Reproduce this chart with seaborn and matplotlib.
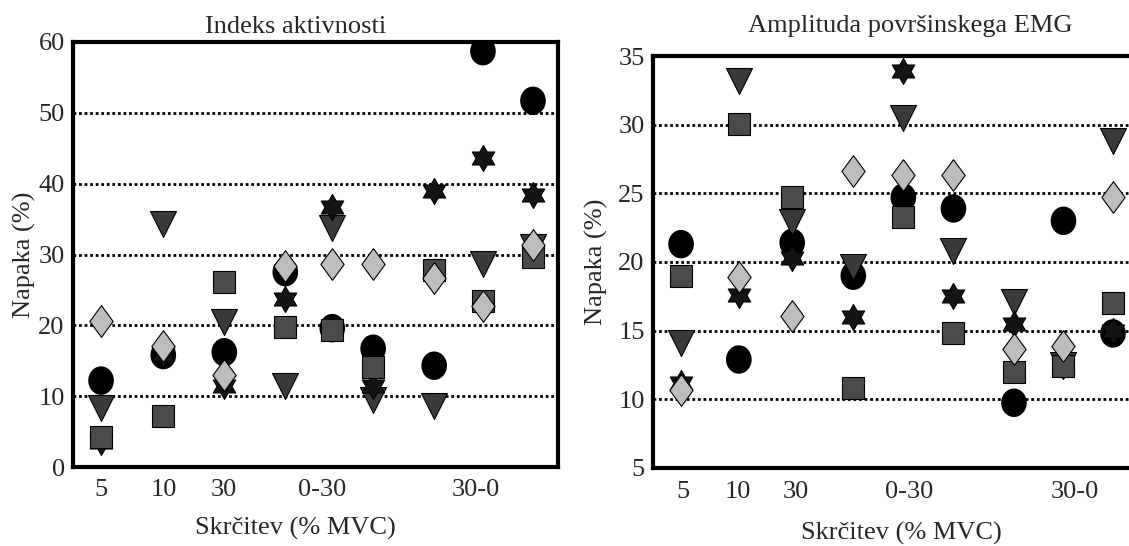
import numpy as np
import pandas as pd
import matplotlib
matplotlib.use('Agg')
import matplotlib.pyplot as plt
import seaborn as sns
from matplotlib.path import Path

# positions of the nine columns (uneven spacing as in the original figure)
left_pos = [1, 2.02, 3.02, 4.02, 4.79, 5.46, 6.46, 7.26, 8.08]
right_pos = [1, 2.05, 3.02, 4.13, 5.04, 5.95, 7.05, 7.95, 8.85]

tick_labels = ['5', '10', '30', '0-30', '30-0']
left_label_pos = [1, 2.03, 3.02, 4.62, 7.15]
right_label_pos = [1.04, 2.04, 3.09, 5.15, 8.15]

# Indeks aktivnosti (% napake)
ia_circle = [12.2, 15.8, 16.2, 27.5, 19.6, 16.7, 14.3, 58.7, 51.7]
ia_triangle = [8.4, 34.3, 20.5, 11.4, 33.8, 9.4, 8.6, 28.6, 31.0]
ia_star = [3.5, 16.0, 11.5, 23.7, 36.7, 11.5, 39.0, 43.6, 38.4]
ia_square = [4.3, 7.2, 26.1, 19.8, 19.4, 14.1, 27.8, 23.5, 29.6]
ia_diamond = [20.6, 17.1, 13.0, 28.4, 28.6, 28.6, 26.7, 22.8, 31.3]

# Amplituda povrsinskega EMG (% napake)
emg_circle = [21.3, 12.9, 21.4, 19.0, 24.7, 23.9, 9.75, 23.0, 14.8]
emg_triangle = [14.1, 33.2, 22.9, 19.6, 30.5, 20.8, 17.1, 12.5, 28.8]
emg_star = [11.2, 17.6, 20.3, 16.0, 33.9, 17.5, 15.5, 12.4, 15.0]
emg_square = [19.0, 30.05, 24.7, 10.8, 23.3, 14.8, 12.0, 12.4, 17.0]
emg_diamond = [10.7, 18.9, 16.1, 26.6, 26.3, 26.3, 13.7, 13.9, 24.7]

# marker shapes
t = np.linspace(0, 2 * np.pi, 60)
ellipse = Path(np.column_stack([0.9 * np.cos(t), np.sin(t)]))
diamond = Path([(0, 1), (0.735, 0), (0, -1), (-0.735, 0), (0, 1)])
ang_out = np.deg2rad(90 + np.arange(6) * 60)
ang_in = ang_out + np.deg2rad(30)
star_v = []
for a, b in zip(ang_out, ang_in):
    star_v.append((np.cos(a), np.sin(a)))
    star_v.append((0.577 * np.cos(b), 0.577 * np.sin(b)))
star_v.append(star_v[0])
hexagram = Path(star_v)

# name: (marker, size in pt, fill, zorder)
styles = {
    'circle': (ellipse, 20.5, '#000000', 3),
    'triangle': ('v', 18.7, '#3a3a3a', 4),
    'star': (hexagram, 18.7, '#141414', 5),
    'square': ('s', 15.8, '#4b4b4b', 6),
    'diamond': (diamond, 22.8, '#bdbdbd', 7),
}

def make_df(pos, circle, triangle, star, square, diamond_vals):
    rows = []
    for name, vals in [('circle', circle), ('triangle', triangle), ('star', star),
                       ('square', square), ('diamond', diamond_vals)]:
        for p, v in zip(pos, vals):
            rows.append({'pos': p, 'napaka': v, 'serija': name})
    return pd.DataFrame(rows)

df_ia = make_df(left_pos, ia_circle, ia_triangle, ia_star, ia_square, ia_diamond)
df_emg = make_df(right_pos, emg_circle, emg_triangle, emg_star, emg_square, emg_diamond)

sns.set_style('white')
plt.rcParams['font.family'] = ['Liberation Serif', 'DejaVu Serif']
plt.rcParams['font.size'] = 19
FS = 19

fig = plt.figure(figsize=(11.29, 5.46), dpi=100)
ax1 = fig.add_axes([73 / 1129, 79 / 546, 485 / 1129, 425 / 546])
ax2 = fig.add_axes([653 / 1129, 78 / 546, 482 / 1129, 412 / 546])

def draw_panel(ax, df, pos, label_pos, ylim, yticks):
    for name, (mk, ms, fc, z) in styles.items():
        sub = df[df['serija'] == name]
        ec = 'none' if name == 'circle' else 'black'
        sns.scatterplot(data=sub, x='pos', y='napaka', ax=ax, marker=mk, s=ms ** 2,
                        color=fc, edgecolor=ec, linewidth=0.8, zorder=z, legend=False)
    ax.set_ylim(*ylim)
    ax.set_yticks(yticks)
    ax.xaxis.remove_overlapping_locs = False
    ax.set_xticks(pos)
    ax.set_xticklabels([''] * len(pos))
    ax.set_xticks(label_pos, minor=True)
    ax.set_xticklabels(tick_labels, minor=True)
    ax.tick_params(axis='x', which='major', direction='in', length=6, width=2.5,
                   color='black')
    ax.tick_params(axis='x', which='minor', length=0, pad=9, labelsize=FS)
    ax.tick_params(axis='y', length=0, pad=6, labelsize=FS)
    ax.grid(axis='y', color='black', linestyle=(0, (1, 1)), linewidth=2.0)
    ax.grid(axis='x', visible=False)
    ax.set_axisbelow(True)
    for s in ax.spines.values():
        s.set_visible(True)
        s.set_color('black')
        s.set_linewidth(3)
    ax.set_ylabel('Napaka (%)', fontsize=FS)
    ax.set_xlabel('Skrčitev (% MVC)', fontsize=FS)

draw_panel(ax1, df_ia, left_pos, left_label_pos, (0, 60), [0, 10, 20, 30, 40, 50, 60])
ax1.set_xlim(0.54, 8.49)
ax1.set_title('Indeks aktivnosti', fontsize=FS, x=0.458, y=1.01, va='bottom', pad=0)
ax1.yaxis.set_label_coords(-0.076, 0.5)
ax1.xaxis.set_label_coords(0.458, -0.117)

draw_panel(ax2, df_emg, right_pos, right_label_pos, (5, 35), [5, 10, 15, 20, 25, 30, 35])
ax2.set_xlim(0.49, 9.25)
ax2.set_title('Amplituda površinskega EMG', fontsize=FS, x=0.533, y=1.045, va='bottom', pad=0)
ax2.yaxis.set_label_coords(-0.093, 0.5)
ax2.xaxis.set_label_coords(0.515, -0.132)

fig.savefig('out.png', dpi=100)
